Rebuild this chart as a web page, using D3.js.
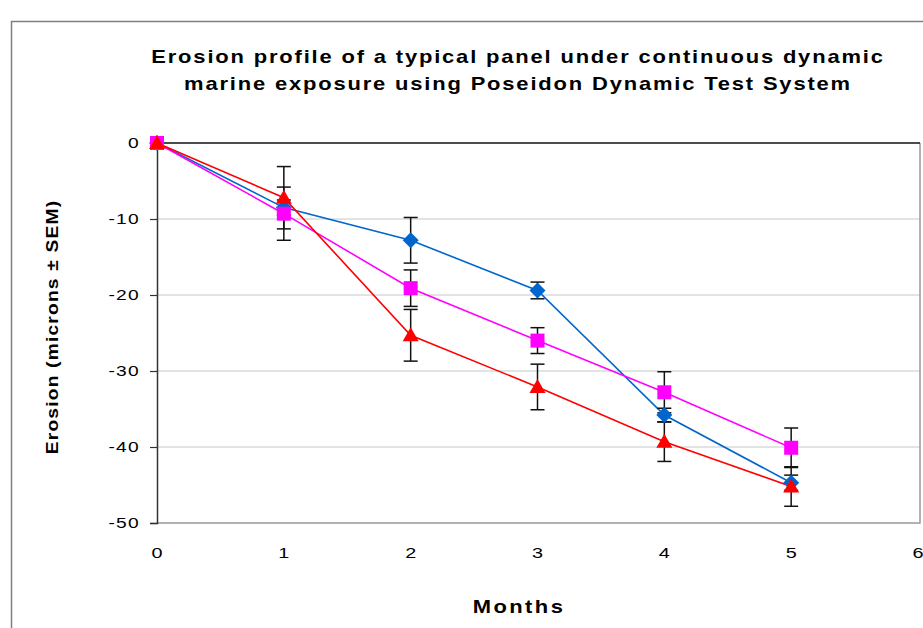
<!DOCTYPE html>
<html>
<head>
<meta charset="utf-8">
<script src="https://cdn.jsdelivr.net/npm/d3@7"></script>
<style>
  body { margin: 0; background: #fff; }
  text { font-family: "Liberation Sans", Arial, sans-serif; fill: #000; }
</style>
</head>
<body>
<div id="chart"></div>
<script>
// data
var months = [0, 1, 2, 3, 4, 5];
var xTicks = [0, 1, 2, 3, 4, 5, 6];
var yTicks = [0, -10, -20, -30, -40, -50];
var titleLines = ["Erosion profile of a typical panel under continuous dynamic",
                  "marine exposure using Poseidon Dynamic Test System"];

var blueVals = [0, -8.5, -12.8, -19.4, -35.8, -44.7];
var blueSem  = [0, 1.0, 3.0, 1.1, 0.9, 1.0];
var pinkVals = [0, -9.3, -19.1, -26.0, -32.8, -40.1];
var pinkSem  = [0, 3.5, 2.4, 1.7, 2.7, 2.6];
var redVals  = [0, -7.2, -25.3, -32.1, -39.3, -45.2];
var redSem   = [0, 4.1, 3.4, 3.0, 2.6, 2.6];

var series = [
    {name: "blue", color: "#0066CC", shape: "diamond", vals: blueVals, sem: blueSem},
    {name: "pink", color: "#FF00FF", shape: "square", vals: pinkVals, sem: pinkSem},
    {name: "red", color: "#FF0000", shape: "triangle", vals: redVals, sem: redSem}
];

var W = 923, H = 628;
var plot = {left: 157, right: 920, top: 143, bottom: 523};
var stretch = 1.28; // text in the picture is drawn wide

var svg = d3.select("#chart").append("svg")
    .attr("width", W)
    .attr("height", H);

// chart area border
svg.append("rect")
    .attr("x", 11.5).attr("y", 21.5)
    .attr("width", W + 20).attr("height", H + 20)
    .attr("fill", "#fff")
    .attr("stroke", "#7f7f7f")
    .attr("stroke-width", 1.5);

var x = d3.scaleLinear().domain([0, 6]).range([plot.left, plot.right - 2]);
var y = d3.scaleLinear().domain([-50, 0]).range([plot.bottom, plot.top]);

// gridlines
svg.append("g")
    .selectAll("line")
    .data(yTicks.filter(function(d) { return d !== 0 && d !== -50; }))
    .enter().append("line")
    .attr("x1", plot.left).attr("x2", plot.right)
    .attr("y1", function(d) { return y(d); })
    .attr("y2", function(d) { return y(d); })
    .attr("stroke", "#c8c8c8")
    .attr("stroke-width", 1);

// plot border (right, bottom)
svg.append("path")
    .attr("d", "M" + plot.left + "," + plot.bottom + "H" + plot.right + "V" + plot.top)
    .attr("fill", "none")
    .attr("stroke", "#999")
    .attr("stroke-width", 1.5);

// y axis
var yAxis = svg.append("g")
    .attr("transform", "translate(" + plot.left + ",0)")
    .call(d3.axisLeft(y).tickValues(yTicks).tickSize(7)
        .tickFormat(function(d) { return String(d); }));
yAxis.select(".domain").attr("stroke", "#333").attr("stroke-width", 1.5);
yAxis.selectAll(".tick line").attr("stroke", "#333").attr("stroke-width", 1.2);
yAxis.selectAll("text")
    .attr("x", 0)
    .attr("transform", "translate(-17,0) scale(" + stretch + ",1)")
    .style("font-size", "15px")
    .style("letter-spacing", "1px")
    .attr("fill", "#000");

// x axis line sits at zero
svg.append("line")
    .attr("x1", plot.left).attr("x2", plot.right)
    .attr("y1", y(0)).attr("y2", y(0))
    .attr("stroke", "#111")
    .attr("stroke-width", 1.5);

// x tick labels at the bottom
svg.append("g")
    .selectAll("text")
    .data(xTicks)
    .enter().append("text")
    .attr("transform", function(d) { return "translate(" + x(d) + ",558) scale(" + stretch + ",1)"; })
    .attr("text-anchor", "middle")
    .style("font-size", "15.5px")
    .text(function(d) { return d; });

// titles
svg.append("g")
    .selectAll("text")
    .data(titleLines)
    .enter().append("text")
    .attr("transform", function(d, i) { return "translate(518," + (63 + i * 27) + ") scale(1.22,1)"; })
    .attr("text-anchor", "middle")
    .style("font-size", "18px")
    .style("font-weight", "bold")
    .style("letter-spacing", "1.5px")
    .text(function(d) { return d; });

svg.append("text")
    .attr("transform", "translate(519,613) scale(1.22,1)")
    .attr("text-anchor", "middle")
    .style("font-size", "18px")
    .style("font-weight", "bold")
    .style("letter-spacing", "2px")
    .text("Months");

svg.append("text")
    .attr("transform", "translate(58,327) rotate(-90) scale(1.2,1)")
    .attr("text-anchor", "middle")
    .style("font-size", "16px")
    .style("font-weight", "bold")
    .style("letter-spacing", "1px")
    .text("Erosion (microns \u00B1 SEM)");

// marker shapes
function shapePath(shape) {
    if (shape === "diamond") return "M0,-8L8,0L0,8L-8,0Z";
    if (shape === "square") return "M-7,-7H7V7H-7Z";
    return "M0,-8L8,6H-8Z";
}

var line = d3.line()
    .x(function(d) { return x(d.m); })
    .y(function(d) { return y(d.v); });

series.forEach(function(s) {
    s.pts = months.map(function(m, i) { return {m: m, v: s.vals[i], e: s.sem[i]}; });
});

// lines
series.forEach(function(s) {
    svg.append("path")
        .datum(s.pts)
        .attr("d", line)
        .attr("fill", "none")
        .attr("stroke", s.color)
        .attr("stroke-width", 1.6);
});

// error bars
series.forEach(function(s) {
    var g = svg.append("g").attr("stroke", "#111").attr("stroke-width", 1.5);
    var pts = s.pts.filter(function(d) { return d.e > 0; });
    g.selectAll(".bar").data(pts).enter().append("line")
        .attr("x1", function(d) { return x(d.m); })
        .attr("x2", function(d) { return x(d.m); })
        .attr("y1", function(d) { return y(d.v + d.e); })
        .attr("y2", function(d) { return y(d.v - d.e); });
    g.selectAll(".capt").data(pts).enter().append("line")
        .attr("x1", function(d) { return x(d.m) - 7; })
        .attr("x2", function(d) { return x(d.m) + 7; })
        .attr("y1", function(d) { return y(d.v + d.e); })
        .attr("y2", function(d) { return y(d.v + d.e); });
    g.selectAll(".capb").data(pts).enter().append("line")
        .attr("x1", function(d) { return x(d.m) - 7; })
        .attr("x2", function(d) { return x(d.m) + 7; })
        .attr("y1", function(d) { return y(d.v - d.e); })
        .attr("y2", function(d) { return y(d.v - d.e); });
});

// markers
series.forEach(function(s) {
    svg.append("g")
        .selectAll("path")
        .data(s.pts)
        .enter().append("path")
        .attr("transform", function(d) { return "translate(" + x(d.m) + "," + y(d.v) + ")"; })
        .attr("d", shapePath(s.shape))
        .attr("fill", s.color);
});
</script>
</body>
</html>
